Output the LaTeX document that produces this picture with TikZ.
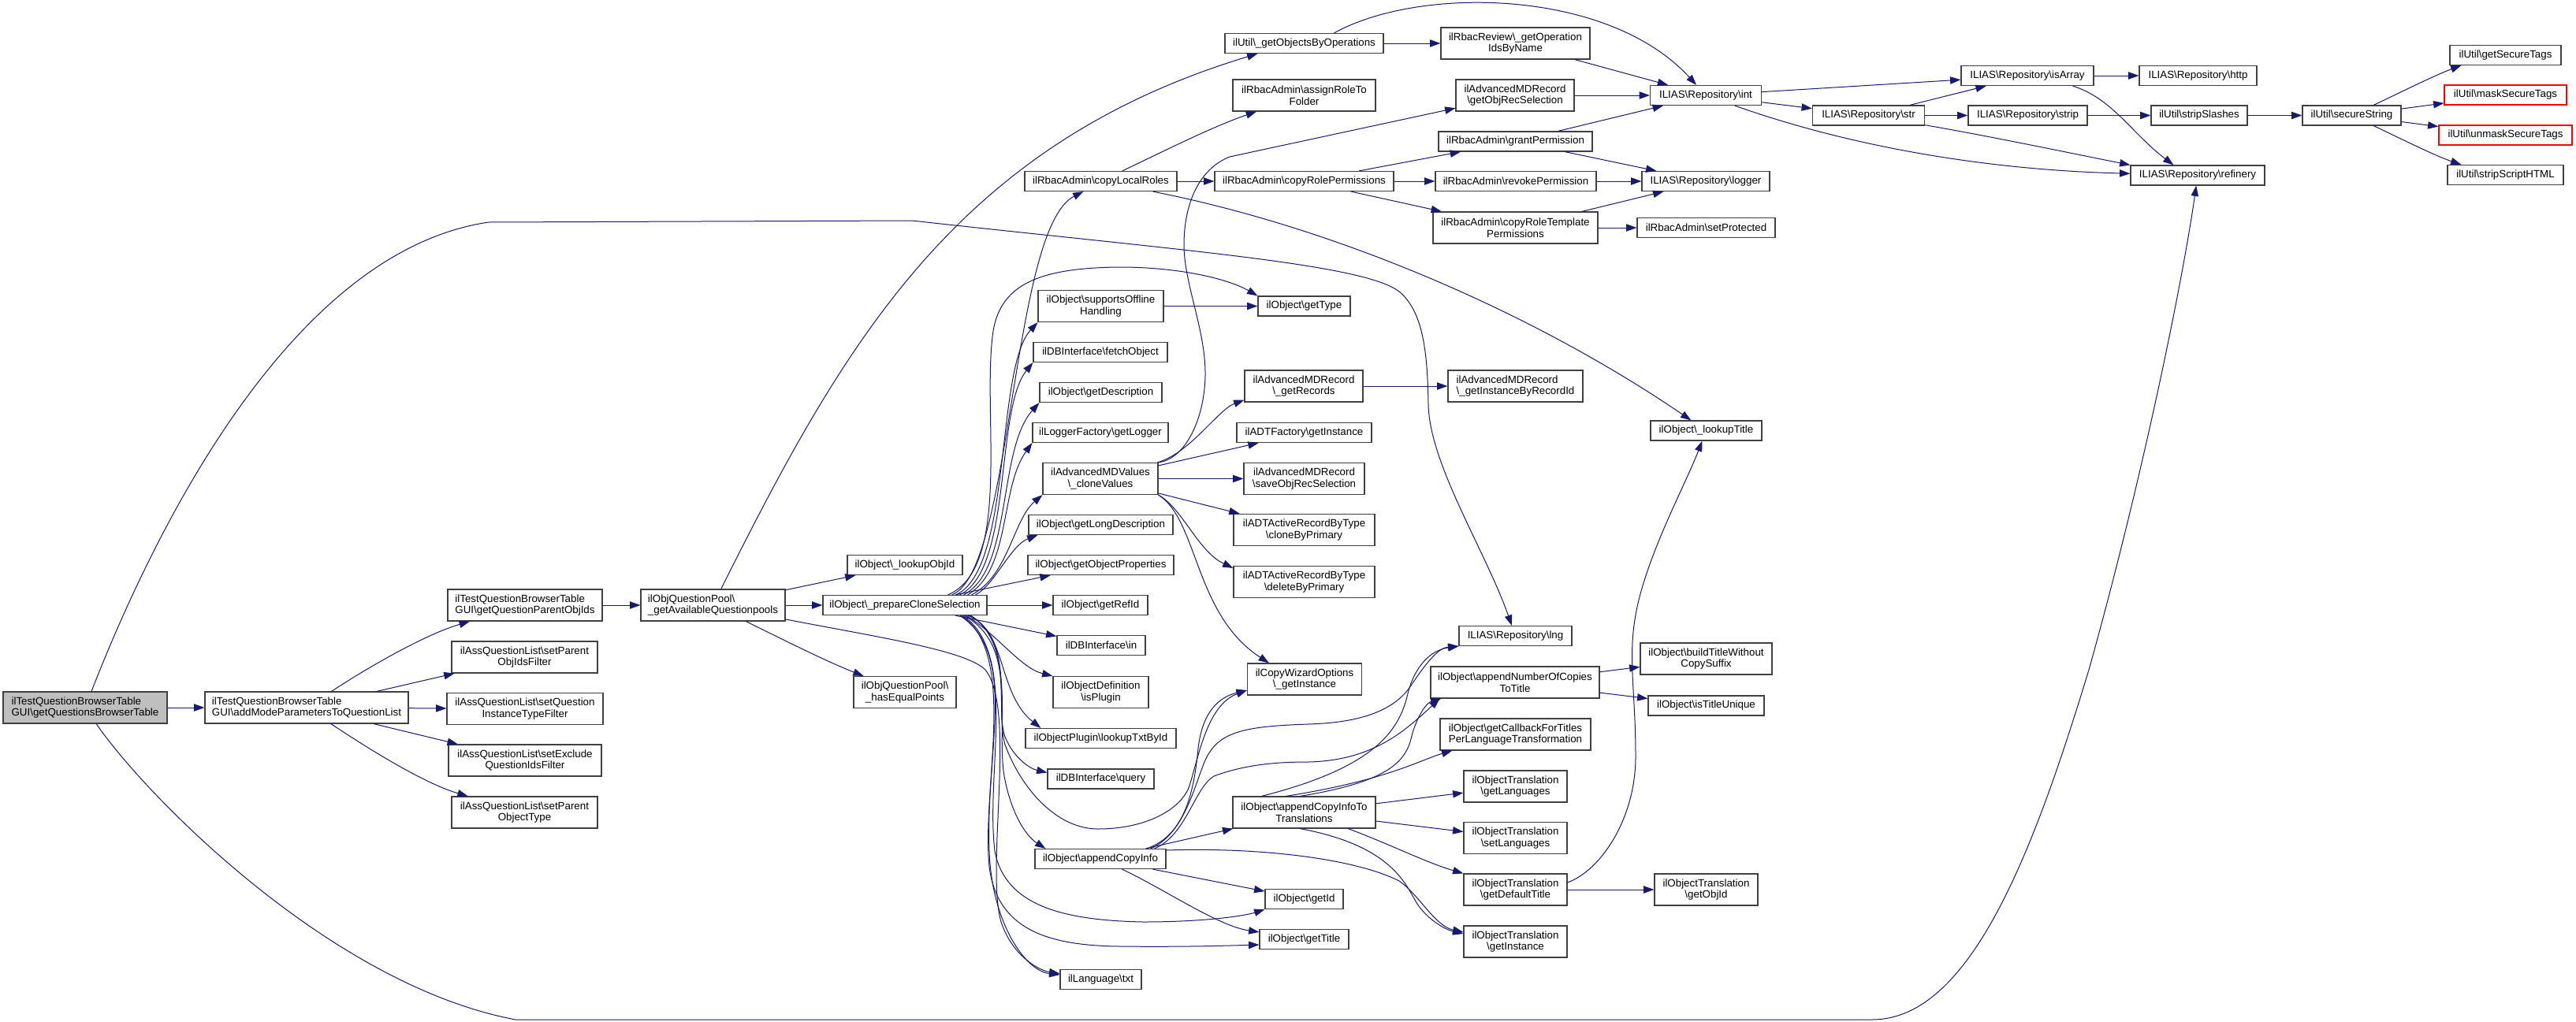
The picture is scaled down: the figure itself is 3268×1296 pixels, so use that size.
\documentclass[tikz,border=0pt]{standalone}
\usepackage{fontspec}
\setmainfont{Liberation Sans}
\usetikzlibrary{arrows.meta,calc}
\definecolor{edgeblue}{HTML}{191970}
\definecolor{nodeborder}{HTML}{404040}
\definecolor{rootfill}{HTML}{BFBFBF}
\def\bs{\textbackslash}
\tikzset{
  nbox/.style={draw=nodeborder,fill=white,line width=0.9pt,inner xsep=1pt,inner ysep=0pt,align=center,
    font=\fontsize{10}{11}\selectfont},
  nd/.style 2 args={nbox,minimum width=#1*0.75pt,minimum height=#2*0.75pt},
  rootnode/.style={fill=rootfill},
  rednode/.style={draw=red},
  edg/.style={draw=edgeblue,line width=0.75pt,-{Triangle[length=10pt,width=7pt]}}
}
\begin{document}
\begin{tikzpicture}[x=0.75pt,y=-0.75pt]
\useasboundingbox (0,0) rectangle (3268,1296);
\fill[white] (0,0) rectangle (3268,1296);
% ---------------- nodes
\node[nd={208}{40},rootnode,align=left] (n0) at (108,898) {ilTestQuestionBrowserTable\\GUI\bs getQuestionsBrowserTable};
\node[nd={258}{40},align=left] (n1) at (389,898) {ilTestQuestionBrowserTable\\GUI\bs addModeParametersToQuestionList};
\node[nd={196}{40},align=left] (gqp) at (666,768) {ilTestQuestionBrowserTable\\GUI\bs getQuestionParentObjIds};
\node[nd={185}{40}] (spoif) at (665.5,834) {ilAssQuestionList\bs setParent\\ObjIdsFilter};
\node[nd={198}{40}] (sqitf) at (666,899.5) {ilAssQuestionList\bs setQuestion\\InstanceTypeFilter};
\node[nd={194}{40}] (seqif) at (666,965) {ilAssQuestionList\bs setExclude\\QuestionIdsFilter};
\node[nd={185}{40}] (spot) at (665.5,1031) {ilAssQuestionList\bs setParent\\ObjectType};
\node[nd={183}{40},align=left] (gaq) at (904.5,768) {ilObjQuestionPool\bs\\\_getAvailableQuestionpools};
\node[nd={146}{25}] (lookupobjid) at (1148,717) {ilObject\bs\_lookupObjId};
\node[nd={208}{25}] (pcs) at (1148,768) {ilObject\bs\_prepareCloneSelection};
\node[nd={130}{40}] (hasequal) at (1148,878.5) {ilObjQuestionPool\bs\\\_hasEqualPoints};
\node[nd={201}{25}] (getobjops) at (1654.5,55) {ilUtil\bs\_getObjectsByOperations};
\node[nd={181}{40}] (assignrole) at (1654.5,121) {ilRbacAdmin\bs assignRoleTo\\Folder};
\node[nd={193}{25}] (copylocal) at (1396.5,230) {ilRbacAdmin\bs copyLocalRoles};
\node[nd={227}{25}] (copyroleperm) at (1654.5,230) {ilRbacAdmin\bs copyRolePermissions};
\node[nd={159}{40}] (supportsoff) at (1396.5,388.5) {ilObject\bs supportsOffline\\Handling};
\node[nd={117}{25}] (gettype) at (1654.5,388.5) {ilObject\bs getType};
\node[nd={170}{25}] (fetchobj) at (1396,447) {ilDBInterface\bs fetchObject};
\node[nd={155}{25}] (getdesc) at (1396.5,498) {ilObject\bs getDescription};
\node[nd={172}{25}] (getlogger) at (1396,549) {ilLoggerFactory\bs getLogger};
\node[nd={146}{40}] (clonevals) at (1396,607.5) {ilAdvancedMDValues\\\bs\_cloneValues};
\node[nd={150}{40}] (getrecords) at (1654,490) {ilAdvancedMDRecord\\\bs\_getRecords};
\node[nd={171}{25}] (adtfactory) at (1654.5,549) {ilADTFactory\bs getInstance};
\node[nd={153}{40}] (saveobjrec) at (1654.5,607.5) {ilAdvancedMDRecord\\\bs saveObjRecSelection};
\node[nd={183}{25}] (getlongdesc) at (1396.5,666) {ilObject\bs getLongDescription};
\node[nd={185}{25}] (getobjprops) at (1396.5,717) {ilObject\bs getObjectProperties};
\node[nd={120}{25}] (getrefid) at (1396,768) {ilObject\bs getRefId};
\node[nd={112}{25}] (dbin) at (1397,819) {ilDBInterface\bs in};
\node[nd={121}{40}] (isplugin) at (1396.5,878.5) {ilObjectDefinition\\\bs isPlugin};
\node[nd={191}{25}] (lookuptxt) at (1396.5,937) {ilObjectPlugin\bs lookupTxtById};
\node[nd={135}{25}] (dbquery) at (1396.5,988.5) {ilDBInterface\bs query};
\node[nd={166}{25}] (appendci) at (1396,1090) {ilObject\bs appendCopyInfo};
\node[nd={103}{25}] (langtxt) at (1396.5,1243) {ilLanguage\bs txt};
\node[nd={179}{40}] (clonebyprim) at (1654.5,672.5) {ilADTActiveRecordByType\\\bs cloneByPrimary};
\node[nd={179}{40}] (deletebyprim) at (1654.5,738.5) {ilADTActiveRecordByType\\\bs deleteByPrimary};
\node[nd={145}{40}] (copywiz) at (1655,862) {ilCopyWizardOptions\\\bs\_getInstance};
\node[nd={181}{40}] (appendcit) at (1654.5,1031) {ilObject\bs appendCopyInfoTo\\Translations};
\node[nd={99}{25}] (getid) at (1654.5,1141) {ilObject\bs getId};
\node[nd={113}{25}] (gettitle) at (1654.5,1192) {ilObject\bs getTitle};
\node[nd={189}{40}] (getoidsbyname) at (1922.5,55) {ilRbacReview\bs\_getOperation\\IdsByName};
\node[nd={150}{40}] (getobjrecsel) at (1922,121) {ilAdvancedMDRecord\\\bs getObjRecSelection};
\node[nd={195}{25}] (grantperm) at (1922.5,179.5) {ilRbacAdmin\bs grantPermission};
\node[nd={204}{25}] (revokeperm) at (1923,230) {ilRbacAdmin\bs revokePermission};
\node[nd={209}{40}] (copyroletpl) at (1922.5,289) {ilRbacAdmin\bs copyRoleTemplate\\Permissions};
\node[nd={171}{40},align=left] (getinstbyrec) at (1922.5,490) {ilAdvancedMDRecord\\\bs\_getInstanceByRecordId};
\node[nd={143}{25}] (repolng) at (1922.5,807) {ILIAS\bs Repository\bs lng};
\node[nd={214}{40}] (appendnum) at (1922,866) {ilObject\bs appendNumberOfCopies\\ToTitle};
\node[nd={191}{40}] (getcallback) at (1922.5,932) {ilObject\bs getCallbackForTitles\\PerLanguageTransformation};
\node[nd={131}{40}] (otgetlang) at (1922.5,998) {ilObjectTranslation\\\bs getLanguages};
\node[nd={131}{40}] (otsetlang) at (1922.5,1063.5) {ilObjectTranslation\\\bs setLanguages};
\node[nd={131}{40}] (otdefault) at (1922.5,1129) {ilObjectTranslation\\\bs getDefaultTitle};
\node[nd={131}{40}] (otinst) at (1922.5,1195) {ilObjectTranslation\\\bs getInstance};
\node[nd={141}{25}] (repoint) at (2164,121) {ILIAS\bs Repository\bs int};
\node[nd={162}{25}] (repologger) at (2164,230) {ILIAS\bs Repository\bs logger};
\node[nd={175}{25}] (setprot) at (2164.5,289) {ilRbacAdmin\bs setProtected};
\node[nd={141}{25}] (lookuptitle) at (2164.5,546.5) {ilObject\bs\_lookupTitle};
\node[nd={167}{40}] (buildtitle) at (2164.5,836) {ilObject\bs buildTitleWithout\\CopySuffix};
\node[nd={147}{25}] (istitleuniq) at (2164.5,895.5) {ilObject\bs isTitleUnique};
\node[nd={131}{40}] (otobjid) at (2164.5,1129) {ilObjectTranslation\\\bs getObjId};
\node[nd={142}{25}] (repostr) at (2370.5,146.5) {ILIAS\bs Repository\bs str};
\node[nd={168}{25}] (isarray) at (2572,96) {ILIAS\bs Repository\bs isArray};
\node[nd={151}{25}] (repostrip) at (2572.5,146.5) {ILIAS\bs Repository\bs strip};
\node[nd={149}{25}] (repohttp) at (2788.5,96) {ILIAS\bs Repository\bs http};
\node[nd={122}{25}] (stripslashes) at (2790,146.5) {ilUtil\bs stripSlashes};
\node[nd={170}{25}] (refinery) at (2788,222.5) {ILIAS\bs Repository\bs refinery};
\node[nd={125}{25}] (securestr) at (2983.5,146.5) {ilUtil\bs secureString};
\node[nd={141}{25}] (getsectags) at (3178.5,70) {ilUtil\bs getSecureTags};
\node[nd={155}{25},rednode] (masksec) at (3178.5,120.5) {ilUtil\bs maskSecureTags};
\node[nd={169}{25},rednode] (unmasksec) at (3178.5,171.5) {ilUtil\bs unmaskSecureTags};
\node[nd={147}{25}] (stripscript) at (3178.5,222) {ilUtil\bs stripScriptHTML};
% ---------------- edges
\begin{scope}[on background layer/.try]
\end{scope}
\draw[edg] (n0) -- (n1);
\draw[edg] (n0) .. controls (185,700) and (360,320) .. (620,282) -- (1157,280)
   .. controls (1500,318) and (1730,335) .. (1775,370)
   .. controls (1805,395) and (1811,445) .. (1812,514)
   .. controls (1814,590) and (1885,700) .. (repolng);
\draw[edg] (n0) .. controls (185,1010) and (420,1250) .. (654,1294) -- (2375,1294)
   .. controls (2500,1294) and (2580,1080) .. (2650,850)
   .. controls (2720,600) and (2770,350) .. (refinery);
\draw[edg] (n1) .. controls (470,845) and (540,805) .. (gqp);
\draw[edg] (n1) -- (spoif);
\draw[edg] (n1) -- (sqitf);
\draw[edg] (n1) -- (seqif);
\draw[edg] (n1) .. controls (470,952) and (540,995) .. (spot);
\draw[edg] (gqp) -- (gaq);
\draw[edg] (gaq) .. controls (1070,437) and (1212,184) .. ($(getobjops.south west)+(42,0)$);
\draw[edg] (gaq) -- (lookupobjid);
\draw[edg] (gaq) -- (pcs);
\draw[edg] (gaq) .. controls (1110,808) and (1225,825) .. (1250,850)
   .. controls (1290,900) and (1250,1100) .. (1270,1170)
   .. controls (1285,1215) and (1320,1232) .. (langtxt);
\draw[edg] (gaq) .. controls (1000,815) and (1050,840) .. (hasequal);
% pcs upward bundle
\draw[edg] ($(pcs.north east)+(-45,0)$) .. controls (1285,725) and (1282,290) .. ($(copylocal.south west)+(75,0)$);
\draw[edg] ($(pcs.north east)+(-40,0)$) .. controls (1285,722) and (1262,468) .. (supportsoff.south west);
\draw[edg] ($(pcs.north east)+(-35,0)$) .. controls (1285,722) and (1262,520) .. (fetchobj.south west);
\draw[edg] ($(pcs.north east)+(-30,0)$) .. controls (1285,722) and (1265,571) .. (getdesc.south west);
\draw[edg] ($(pcs.north east)+(-25,0)$) .. controls (1283,722) and (1268,620) .. (getlogger.south west);
\draw[edg] ($(pcs.north east)+(-20,0)$) .. controls (1280,730) and (1285,660) .. (clonevals.south west);
\draw[edg] ($(pcs.north east)+(-15,0)$) .. controls (1262,742) and (1282,692) .. ($(getlongdesc.south west)+(12,0)$);
\draw[edg] ($(pcs.north east)+(-50,0)$) .. controls (1285,720) and (1245,520) .. (1260,420)
   .. controls (1270,360) and (1320,340) .. (1420,339)
   .. controls (1500,339) and (1560,355) .. (gettype.north west);
\draw[edg] (pcs) -- (getobjprops);
\draw[edg] (pcs) -- (getrefid);
\draw[edg] (pcs) -- (dbin);
% pcs downward bundle
\draw[edg] ($(pcs.south east)+(-27,0)$) .. controls (1265,805) and (1295,848) .. (isplugin.north west);
\draw[edg] ($(pcs.south east)+(-25,0)$) .. controls (1278,800) and (1265,880) .. ($(lookuptxt.north west)+(20,0)$);
\draw[edg] ($(pcs.south east)+(-23,0)$) .. controls (1288,810) and (1262,900) .. (1275,935)
   .. controls (1285,960) and (1305,975) .. ($(dbquery.west)+(0,-8)$);
\draw[edg] ($(pcs.south east)+(-21,0)$) .. controls (1292,820) and (1262,930) .. (1275,990)
   .. controls (1283,1030) and (1300,1060) .. ($(appendci.north west)+(14,0)$);
\draw[edg] ($(pcs.south east)+(-35,0)$) .. controls (1292,830) and (1250,950) .. (1255,1080)
   .. controls (1258,1170) and (1300,1232) .. (langtxt);
\draw[edg] ($(pcs.south east)+(-31,0)$) .. controls (1292,830) and (1250,980) .. (1262,1080)
   .. controls (1275,1150) and (1350,1168) .. (1450,1170)
   .. controls (1530,1170) and (1580,1162) .. (getid.south west);
\draw[edg] ($(pcs.south east)+(-33,0)$) .. controls (1292,830) and (1245,1000) .. (1255,1100)
   .. controls (1265,1180) and (1330,1200) .. (1420,1201)
   .. controls (1500,1202) and (1560,1200) .. ($(gettitle.west)+(0,7)$);
\draw[edg] ($(pcs.south east)+(-29,0)$) .. controls (1290,820) and (1262,900) .. (1275,945)
   .. controls (1295,1000) and (1340,1052) .. (1393,1052)
   .. controls (1450,1052) and (1495,1030) .. (1508,1000)
   .. controls (1520,965) and (1530,895) .. ($(copywiz.west)+(0,14)$);
\draw[edg] (supportsoff) -- (gettype);
% rbac / util
\draw[edg] (getobjops) -- (getoidsbyname);
\draw[edg] ($(getobjops.north)+(38,0)$) .. controls (1800,-18) and (2040,-15) .. (repoint);
\draw[edg] (getoidsbyname) -- (repoint);
\draw[edg] (getobjrecsel) -- (repoint);
\draw[edg] (grantperm) -- (repoint);
\draw[edg] (grantperm) -- (repologger);
\draw[edg] (revokeperm) -- (repologger);
\draw[edg] (copyroletpl) -- (repologger);
\draw[edg] (copyroletpl) -- (setprot);
\draw[edg] (copyroleperm) -- (grantperm);
\draw[edg] (copyroleperm) -- (revokeperm);
\draw[edg] (copyroleperm) -- (copyroletpl);
\draw[edg] (copylocal) .. controls (1480,190) and (1540,160) .. (assignrole);
\draw[edg] (copylocal) -- (copyroleperm);
\draw[edg] (copylocal) .. controls (1700,290) and (1950,400) .. (lookuptitle);
% advanced md
\draw[edg] (getrecords) -- (getinstbyrec);
\draw[edg] (clonevals) .. controls (1510,575) and (1545,520) .. ($(getrecords.south west)+(0,-3)$);
\draw[edg] (clonevals) -- (adtfactory);
\draw[edg] (clonevals) -- (saveobjrec);
\draw[edg] (clonevals) -- (clonebyprim);
\draw[edg] (clonevals.south east) .. controls (1500,645) and (1520,700) .. ($(deletebyprim.north west)+(0,3)$);
\draw[edg] (clonevals.south east) .. controls (1520,660) and (1515,780) .. ($(copywiz.north west)+(28,0)$);
\draw[edg] (clonevals.north east) .. controls (1505,582) and (1528,530) .. (1529,477)
   .. controls (1530,420) and (1502,360) .. (1502,311)
   .. controls (1502,260) and (1520,215) .. (1560,199) -- (getobjrecsel);
% append copy info
\draw[edg] ($(appendci.north east)+(-25,0)$) .. controls (1505,1060) and (1515,1000) .. (1520,950)
   .. controls (1525,905) and (1545,885) .. ($(copywiz.west)+(0,14)$);
\draw[edg] ($(appendci.north east)+(-20,0)$) .. controls (1500,1060) and (1515,1000) .. (1525,975)
   .. controls (1540,930) and (1570,922) .. (1660,919)
   .. controls (1730,917) and (1770,900) .. (1790,870)
   .. controls (1810,840) and (1825,822) .. (repolng.south west);
\draw[edg] ($(appendci.north east)+(-15,0)$) .. controls (1505,1060) and (1515,1000) .. (1540,985)
   .. controls (1580,970) and (1620,967) .. (1660,967)
   .. controls (1740,965) and (1780,930) .. ($(appendnum.south west)+(12,0)$);
\draw[edg] (appendci) -- (appendcit);
\draw[edg] (appendci) -- (getid);
\draw[edg] (appendci) .. controls (1480,1130) and (1545,1175) .. ($(gettitle.north west)+(0,4)$);
\draw[edg] ($(appendci.east)+(0,-11)$) .. controls (1600,1075) and (1720,1090) .. (1775,1118)
   .. controls (1800,1135) and (1820,1175) .. ($(otinst.west)+(0,-12)$);
\draw[edg] ($(appendcit.north west)+(37,0)$) .. controls (1740,975) and (1775,930) .. (1786,880)
   .. controls (1795,845) and (1815,825) .. (repolng.south west);
\draw[edg] ($(appendcit.north west)+(86,0)$) .. controls (1775,990) and (1785,960) .. (1792,930)
   .. controls (1800,905) and (1810,892) .. ($(appendnum.south west)+(14,0)$);
\draw[edg] ($(appendcit.north west)+(68,0)$) .. controls (1760,990) and (1800,965) .. ($(getcallback.south west)+(16,0)$);
\draw[edg] (appendcit) -- (otgetlang);
\draw[edg] (appendcit) -- (otsetlang);
\draw[edg] (appendcit) .. controls (1760,1070) and (1810,1095) .. (otdefault.north west);
\draw[edg] ($(appendcit.south west)+(86,0)$) .. controls (1775,1075) and (1785,1130) .. (1800,1150)
   .. controls (1815,1170) and (1835,1180) .. ($(otinst.west)+(0,-10)$);
\draw[edg] (appendnum) -- (buildtitle);
\draw[edg] (appendnum) -- (istitleuniq);
\draw[edg] (otdefault) -- (otobjid);
\draw[edg] ($(otdefault.east)+(0,-9)$) .. controls (2030,1105) and (2075,1040) .. (2075,960)
   .. controls (2075,860) and (2060,820) .. (2085,740)
   .. controls (2105,675) and (2140,610) .. (lookuptitle);
% repository
\draw[edg] (repoint) -- (isarray);
\draw[edg] (repoint) -- (repostr);
\draw[edg] (repoint) .. controls (2330,180) and (2500,215) .. (refinery);
\draw[edg] (repostr) -- (isarray);
\draw[edg] (repostr) -- (repostrip);
\draw[edg] (repostr) .. controls (2520,172) and (2640,197) .. (refinery.north west);
\draw[edg] (isarray) -- (repohttp);
\draw[edg] ($(isarray.south east)+(-27,0)$) .. controls (2680,125) and (2705,170) .. ($(refinery.north west)+(55,0)$);
\draw[edg] (repostrip) -- (stripslashes);
\draw[edg] (stripslashes) -- (securestr);
\draw[edg] (securestr) .. controls (3050,115) and (3090,95) .. ($(getsectags.south west)+(15,0)$);
\draw[edg] (securestr) -- (masksec);
\draw[edg] (securestr) -- (unmasksec);
\draw[edg] (securestr) .. controls (3050,178) and (3090,198) .. ($(stripscript.north west)+(18,0)$);
\end{tikzpicture}
\end{document}
